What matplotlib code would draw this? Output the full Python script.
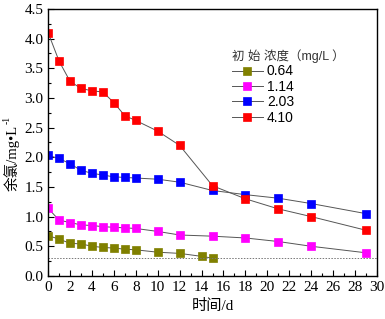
import matplotlib
matplotlib.use("Agg")
import matplotlib.pyplot as plt
from matplotlib.ticker import MultipleLocator, FormatStrFormatter

plt.rcParams["font.family"] = ["Liberation Serif", "Noto Sans CJK SC"]

days_long = [0, 1, 2, 3, 4, 5, 6, 7, 8, 10, 12, 15, 18, 21, 24, 29]
days_short = [0, 1, 2, 3, 4, 5, 6, 7, 8, 10, 12, 14, 15]
c064 = [0.68, 0.62, 0.55, 0.54, 0.50, 0.48, 0.47, 0.45, 0.44, 0.40, 0.38, 0.33, 0.30]
c114 = [1.14, 0.94, 0.90, 0.86, 0.85, 0.83, 0.82, 0.81, 0.80, 0.75, 0.69, 0.67, 0.64, 0.58, 0.50, 0.39]
c203 = [2.03, 1.98, 1.89, 1.78, 1.73, 1.70, 1.67, 1.66, 1.65, 1.63, 1.58, 1.44, 1.37, 1.31, 1.22, 1.05]
c410 = [4.10, 3.62, 3.28, 3.16, 3.12, 3.10, 2.92, 2.70, 2.62, 2.44, 2.20, 1.52, 1.30, 1.13, 1.00, 0.77]
labels = ["0.64", "1.14", "2.03", "4.10"]
colors = ["#808000", "#FF00FF", "#0000FF", "#FF0000"]
threshold = 0.3

fig = plt.figure(figsize=(3.85, 3.19), dpi=100)
ax = fig.add_axes([0.125, 0.135, 0.854, 0.837])

series = [(days_short, c064), (days_long, c114), (days_long, c203), (days_long, c410)]
for (x, y), lab, col in zip(series, labels, colors):
    ax.plot(x, y, color="#555555", lw=0.7, marker="s", ms=5.2,
            mfc=col, mec=col, mew=0.5, label=lab)

ax.axhline(threshold, color="#777777", lw=0.7, ls=(0, (1.5, 1.5)))

ax.set_xlim(0, 30)
ax.set_ylim(0, 4.5)
ax.xaxis.set_major_locator(MultipleLocator(2))
ax.xaxis.set_minor_locator(MultipleLocator(1))
ax.yaxis.set_major_locator(MultipleLocator(0.5))
ax.yaxis.set_minor_locator(MultipleLocator(0.25))
ax.xaxis.set_major_formatter(FormatStrFormatter("%d"))
ax.yaxis.set_major_formatter(FormatStrFormatter("%.1f"))
ax.tick_params(which="both", direction="in", top=False, right=False)
ax.tick_params(which="major", length=4, width=0.8, labelsize=11)
ax.tick_params(which="minor", length=2.5, width=0.8)
for s in ax.spines.values():
    s.set_linewidth(1.0)

ax.set_xlabel("时间/d", fontsize=11, labelpad=4)

# y label with manual superscript
ylab = fig.text(0.03, 0.505, "余氯/mg•L", rotation=90, fontsize=10.5,
                ha="center", va="center")
fig.canvas.draw()
bb = ylab.get_window_extent(fig.canvas.get_renderer()).transformed(fig.transFigure.inverted())
fig.text(bb.x0 - 0.002, bb.y1 + 0.002, "-1", rotation=90, fontsize=7,
         ha="left", va="bottom")

leg = ax.legend(loc="upper left", bbox_to_anchor=(0.53, 0.885), frameon=False,
                title="初 始 浓度（mg/L ）", handlelength=2.2, handletextpad=0.3,
                labelspacing=0.1, borderpad=0.2,
                prop={"family": "Liberation Sans", "size": 10})
leg.get_title().set_fontfamily(["Liberation Sans", "Noto Sans CJK SC"])
leg.get_title().set_fontsize(9)
leg.get_title().set_color("#333333")
leg._legend_box.align = "left"

fig.savefig("out.png", dpi=100)
